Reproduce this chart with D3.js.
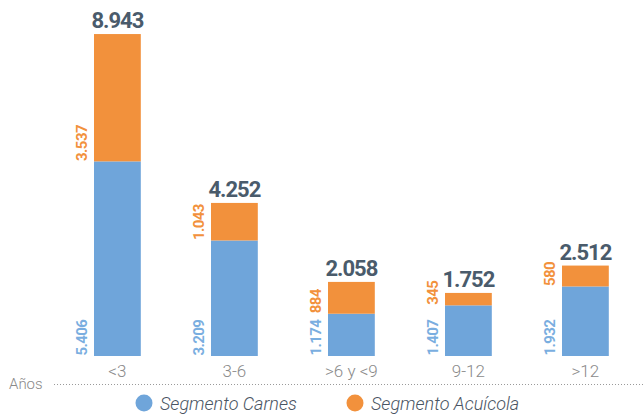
<!DOCTYPE html>
<html><head><meta charset="utf-8">
<script src="https://cdn.jsdelivr.net/npm/d3@7"></script>
<style>body{margin:0;background:#fff;}svg{display:block;}</style>
</head><body>
<svg id="c" width="643" height="414"></svg>
<script>
const categories = ["<3", "3-6", ">6 y <9", "9-12", ">12"];
const carnes = [5406, 3209, 1174, 1407, 1932];
const acuicola = [3537, 1043, 884, 345, 580];
const totals = [8943, 4252, 2058, 1752, 2512];
const seriesNames = ["Segmento Carnes", "Segmento Acuícola"];
const axisTitle = "Años";

const colBlue = "#6fa5da", colOrange = "#f2913c";
const labBlue = "#7aaee0", labOrange = "#f2913c";
const fmt = v => d3.format(",")(v).replace(/,/g, ".");

const svg = d3.select("#c");
const rows = categories.map((c, i) => ({cat: c, carnes: carnes[i], acuicola: acuicola[i], total: totals[i]}));
const stack = d3.stack().keys(["carnes", "acuicola"])(rows);

const x = d3.scaleBand().domain(categories).range([58.9, 643.9]).paddingInner(0.6).paddingOuter(0.3);
const y = d3.scaleLinear().domain([0, 9000]).range([356, 32]);
const colors = [colBlue, colOrange], labCols = [labBlue, labOrange];

stack.forEach((s, si) => {
  svg.append("g").selectAll("rect").data(s).join("rect")
    .attr("x", d => x(d.data.cat)).attr("width", x.bandwidth())
    .attr("y", d => y(d[1])).attr("height", d => y(d[0]) - y(d[1]))
    .attr("fill", colors[si]);
  svg.append("g").selectAll("text").data(s).join("text")
    .attr("transform", d => `translate(${x(d.data.cat) - 7},${y(d[0]) - 0.5}) rotate(-90)`)
    .attr("text-anchor", "start")
    .style("font-family", "Roboto, sans-serif").style("font-weight", 700)
    .style("font-size", "15px").style("letter-spacing", "-0.6px")
    .attr("fill", labCols[si])
    .text(d => fmt(d[1] - d[0]));
});

svg.append("g").selectAll("text").data(rows).join("text")
  .attr("x", d => x(d.cat) + x.bandwidth() / 2).attr("y", d => y(d.total) - 6)
  .attr("text-anchor", "middle")
  .style("font-family", "Roboto, sans-serif").style("font-weight", 700)
  .style("font-size", "22px").style("letter-spacing", "-1px")
  .attr("fill", "#4a5b6b")
  .text(d => fmt(d.total));

// category axis
const xAxis = d3.axisBottom(x).tickSize(0).tickPadding(0);
const ag = svg.append("g").attr("transform", "translate(0,365)").call(xAxis);
ag.select(".domain").remove();
ag.selectAll("text").attr("dy", "0").attr("y", 12)
  .style("font-family", "Roboto, sans-serif").style("font-weight", 300)
  .style("font-size", "17px").attr("fill", "#8a8a8a");

svg.append("text").attr("x", 9).attr("y", 389).text(axisTitle)
  .style("font-family", "Roboto, sans-serif").style("font-weight", 300)
  .style("font-size", "15px").attr("fill", "#8a8a8a");
svg.append("line").attr("x1", 54).attr("x2", 643).attr("y1", 384.5).attr("y2", 384.5)
  .attr("stroke", "#9a9a9a").attr("stroke-width", 1).attr("stroke-dasharray", "1,2");

// legend
const leg = [{x: 144, name: seriesNames[0], c: colBlue}, {x: 355, name: seriesNames[1], c: colOrange}];
const lg = svg.append("g").selectAll("g").data(leg).join("g");
lg.append("circle").attr("cx", d => d.x).attr("cy", 403).attr("r", 8.5).attr("fill", d => d.c);
lg.append("text").attr("x", d => d.x + 16).attr("y", 409.5).text(d => d.name)
  .style("font-family", "Roboto, sans-serif").style("font-style", "italic").style("font-weight", 300)
  .style("font-size", "18px").attr("fill", "#4a5563");
</script>
</body></html>
